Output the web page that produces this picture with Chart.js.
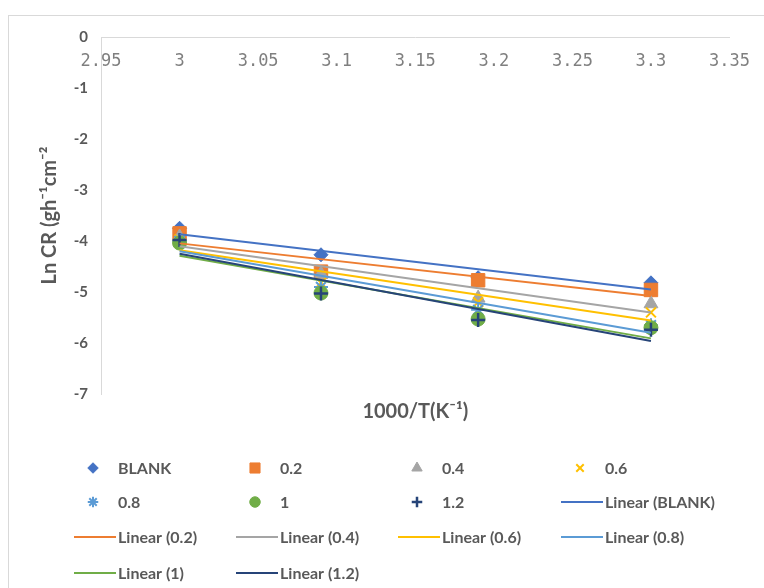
<!DOCTYPE html>
<html>
<head>
<meta charset="utf-8">
<script src="https://cdn.jsdelivr.net/npm/chart.js@4.4.1/dist/chart.umd.min.js"></script>
<style>
  html, body { margin: 0; padding: 0; background: #fff; }
  body { width: 764px; height: 588px; overflow: hidden; position: relative; }
  #frame { position: absolute; left: 8px; top: 15px; width: 800px; height: 620px; border: 1px solid #d9d9d9; }
  #wrap { position: absolute; left: 0; top: 0; width: 764px; height: 588px; }
</style>
</head>
<body>
<div id="frame"></div>
<div id="wrap"><canvas id="arrheniusChart"></canvas></div>
<script>
// --- data ---
const invTemp = [3, 3.09, 3.19, 3.3];          // 1000/T (K^-1)
const lnBlank = [-3.75, -4.27, -4.72, -4.82];
const ln02 = [-3.85, -4.60, -4.77, -4.96];
const ln04 = [-3.92, -4.65, -5.12, -5.23];
const ln06 = [-3.97, -4.82, -5.20, -5.40];
const ln08 = [-4.00, -4.90, -5.35, -5.65];
const ln10 = [-4.04, -5.02, -5.53, -5.70];
const ln12 = [-3.98, -5.03, -5.55, -5.74];
const seriesNames = ['BLANK', '0.2', '0.4', '0.6', '0.8', '1', '1.2'];
const xTicks = [2.95, 3.35, 0.05];   // min, max, step
const yTicks = [-7, 0, 1];

const seriesValues = [lnBlank, ln02, ln04, ln06, ln08, ln10, ln12];

// Excel-ish marker styles
const markerStyle = [
    { color: '#4472C4', pointStyle: 'rectRot', radius: 7, border: 1 },
    { color: '#ED7D31', pointStyle: 'rect', radius: 9.5, border: 1 },
    { color: '#A5A5A5', pointStyle: 'triangle', radius: 8, border: 1 },
    { color: '#FFC000', pointStyle: 'crossRot', radius: 7, border: 2 },
    { color: '#5B9BD5', pointStyle: 'star', radius: 7, border: 2 },
    { color: '#70AD47', pointStyle: 'circle', radius: 7, border: 1 },
    { color: '#264478', pointStyle: 'cross', radius: 7, border: 2.5 }
];

// least squares line, drawn between first and last x like an Excel trendline
function linearFit(xs, ys) {
    const n = xs.length;
    const mx = xs.reduce((a, b) => a + b, 0) / n;
    const my = ys.reduce((a, b) => a + b, 0) / n;
    let sxy = 0, sxx = 0;
    for (let i = 0; i < n; i++) {
        sxy += (xs[i] - mx) * (ys[i] - my);
        sxx += (xs[i] - mx) * (xs[i] - mx);
    }
    const slope = sxy / sxx;
    const at = x => my + slope * (x - mx);
    return [{ x: xs[0], y: at(xs[0]) }, { x: xs[n - 1], y: at(xs[n - 1]) }];
}

// later series sit on top of earlier ones, as in Excel
const pointSets = seriesValues.map((vals, i) => ({
    type: 'scatter',
    label: seriesNames[i],
    data: vals.map((v, j) => ({ x: invTemp[j], y: v })),
    backgroundColor: markerStyle[i].color,
    borderColor: markerStyle[i].color,
    borderWidth: markerStyle[i].border,
    pointStyle: markerStyle[i].pointStyle,
    pointRadius: markerStyle[i].radius,
    order: 20 - i
}));

const trendSets = seriesValues.map((vals, i) => ({
    type: 'line',
    label: 'Linear (' + seriesNames[i] + ')',
    data: linearFit(invTemp, vals),
    borderColor: markerStyle[i].color,
    borderWidth: 2,
    pointRadius: 0,
    fill: false,
    order: 10 - i
}));

// --- legend in a 4 column grid, like the Excel one ---
const gridLegend = {
    id: 'gridLegend',
    afterDraw(chart, args, opts) {
        const ctx = chart.ctx;
        ctx.save();
        ctx.font = opts.font;
        ctx.textBaseline = 'middle';
        chart.data.datasets.forEach((ds, i) => {
            const x0 = opts.cols[i % 4];
            const y = opts.rows[Math.floor(i / 4)];
            ctx.fillStyle = ds.borderColor;
            ctx.strokeStyle = ds.borderColor;
            if (ds.type === 'line') {
                ctx.lineWidth = 2;
                ctx.beginPath();
                ctx.moveTo(x0, y);
                ctx.lineTo(x0 + 42, y);
                ctx.stroke();
            } else {
                ctx.lineWidth = ds.borderWidth;
                Chart.helpers.drawPoint(ctx, {
                    pointStyle: ds.pointStyle,
                    radius: ds.pointRadius * 0.75,
                    rotation: 0,
                    borderWidth: ds.borderWidth
                }, x0 + 19, y);
            }
            ctx.fillStyle = opts.color;
            ctx.fillText(ds.label, x0 + 44, y + 1);
        });
        ctx.restore();
    }
};

const ctx = document.getElementById('arrheniusChart');
new Chart(ctx, {
    type: 'scatter',
    data: { datasets: pointSets.concat(trendSets) },
    plugins: [gridLegend],
    options: {
        responsive: true,
        maintainAspectRatio: false,
        animation: false,
        events: [],
        layout: { padding: { left: 0, top: 37, right: 27, bottom: 164 } },
        plugins: {
            legend: { display: false },
            tooltip: { enabled: false },
            gridLegend: {
                cols: [74, 236, 398, 561],
                rows: [468, 502, 537, 573],
                font: 'bold 16px Lato',
                color: '#595959'
            }
        },
        scales: {
            x: {
                type: 'linear',
                position: { y: 0 },
                min: xTicks[0], max: xTicks[1],
                ticks: {
                    stepSize: xTicks[2], padding: 14, color: '#7f7f7f',
                    font: { family: 'DejaVu Sans Mono', size: 17 },
                    callback: v => String(+v.toFixed(2))
                },
                grid: { display: false, drawTicks: false },
                border: { display: true, color: '#d9d9d9', width: 1 }
            },
            xTitle: {
                type: 'linear',
                axis: 'x',
                position: 'bottom',
                min: xTicks[0], max: xTicks[1],
                ticks: { display: false },
                grid: { display: false, drawTicks: false },
                border: { display: false },
                title: {
                    display: true,
                    text: '1000/T(K⁻¹)',
                    color: '#595959',
                    padding: { top: 6, bottom: 0 },
                    font: { family: 'Lato', size: 20, weight: 'bold' }
                }
            },
            y: {
                min: yTicks[0], max: yTicks[1],
                ticks: { stepSize: yTicks[2], padding: 13, color: '#595959', font: { family: 'Lato', size: 15, weight: 'bold' } },
                grid: { display: false, drawTicks: false },
                border: { display: true, color: '#d9d9d9', width: 1 },
                title: {
                    display: true,
                    text: 'Ln CR (gh⁻¹cm⁻²',
                    color: '#595959',
                    padding: { top: 38, bottom: 0 },
                    font: { family: 'Lato', size: 20, weight: 'bold' }
                },
                afterFit(scale) { scale.width = 101; }
            }
        }
    }
});
</script>
</body>
</html>
